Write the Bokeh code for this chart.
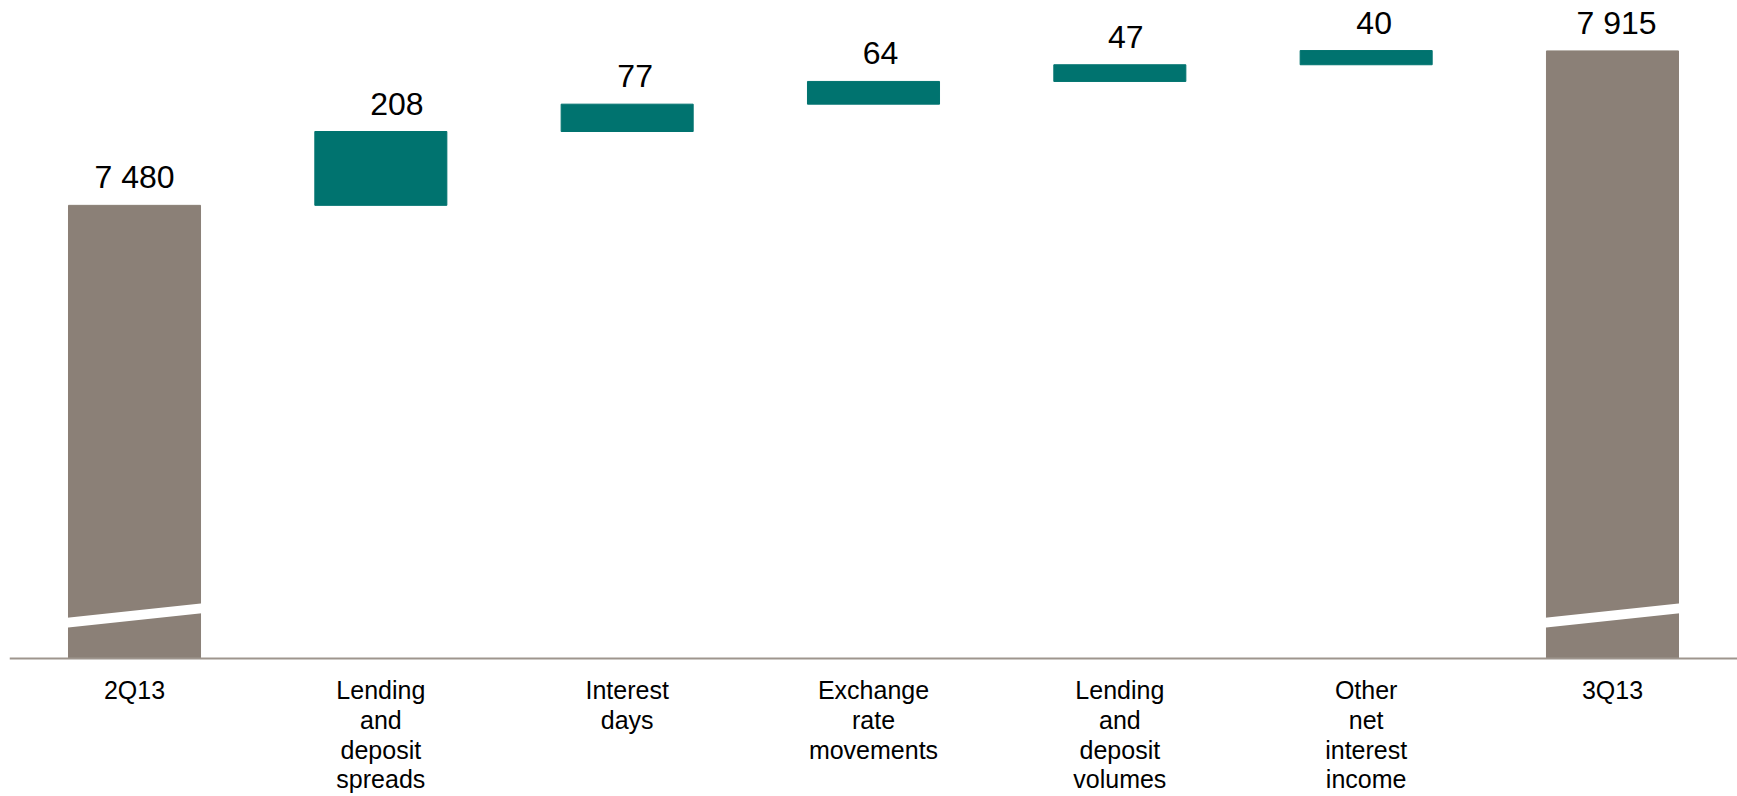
from bokeh.plotting import figure
from bokeh.models import ColumnDataSource, Span, Range1d
from bokeh.core.properties import value
from bokeh.embed import file_html
from bokeh.resources import INLINE

# ---- data ----
categories = ["2Q13", "Lending\nand\ndeposit\nspreads", "Interest\ndays",
              "Exchange\nrate\nmovements", "Lending\nand\ndeposit\nvolumes",
              "Other\nnet\ninterest\nincome", "3Q13"]
start_value = 7480
deltas = [208, 77, 64, 47, 40]
end_value = 7915
value_labels = ["7 480", "208", "77", "64", "47", "40", "7 915"]

# ---- styling ----
GREY = "#8B8077"
TEAL = "#00736F"
AXIS_FLOOR = 6204          # broken-axis floor shown at the baseline
BAR_W = 0.536
label_dx = [0, 16, 8, 7, 6, 8, 4]   # small pixel nudges of value labels

xs = list(range(len(categories)))

# waterfall geometry
bottoms, tops, colors = [], [], []
bottoms.append(AXIS_FLOOR); tops.append(start_value); colors.append(GREY)
run = start_value
for d in deltas:
    bottoms.append(run); tops.append(run + d); colors.append(TEAL)
    run += d
bottoms.append(AXIS_FLOOR); tops.append(end_value); colors.append(GREY)

src = ColumnDataSource(dict(x=xs, bottom=bottoms, top=tops, color=colors,
                            lbl=value_labels, dx=label_dx, cat=categories,
                            base=[AXIS_FLOOR] * len(xs)))

p = figure(width=1737, height=796, output_backend="svg", toolbar_location=None,
           x_range=Range1d(-0.5075, 6.5075), y_range=Range1d(5815, 8057),
           min_border_left=9, min_border_right=0, min_border_top=0, min_border_bottom=0)
p.axis.visible = False
p.grid.visible = False
p.outline_line_color = None
p.background_fill_color = "white"
p.border_fill_color = "white"

p.vbar(x="x", bottom="bottom", top="top", width=BAR_W, color="color", source=src)

# axis-break marks on the two total bars
k = 0.355  # px per unit
for xi in (0, len(xs) - 1):
    p.segment(x0=[xi - 0.30], y0=[AXIS_FLOOR + 35 / k], x1=[xi + 0.29], y1=[AXIS_FLOOR + 50.5 / k],
              line_color="white", line_width=10)

# baseline axis line
p.add_layout(Span(location=AXIS_FLOOR, dimension="width", line_color="#9E958D", line_width=2))

# value labels
p.text(x="x", y="top", text="lbl", source=src, x_offset="dx", y_offset=-28,
       text_align="center", text_baseline="alphabetic",
       text_font=value("Liberation Sans"), text_font_size="32px", text_color="black")

# category labels
p.text(x="x", y="base", text="cat", source=src, y_offset=18,
       text_align="center", text_baseline="top", text_line_height=1.06,
       text_font=value("Liberation Sans"), text_font_size="25px", text_color="black")

open("out.html", "w").write(file_html(p, INLINE))
